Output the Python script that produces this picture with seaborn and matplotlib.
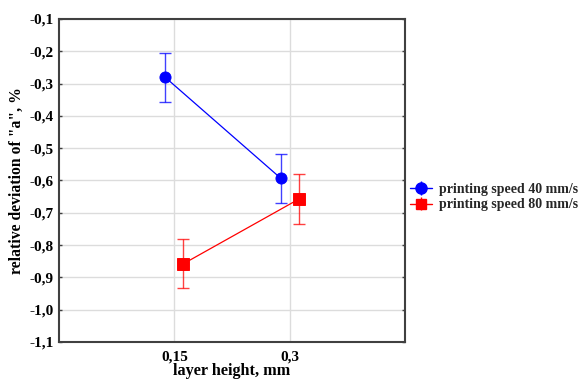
import matplotlib
matplotlib.use("Agg")
import matplotlib.pyplot as plt
import seaborn as sns
import pandas as pd

layer_heights = ["0,15", "0,3"]
series_names = ["printing speed 40 mm/s", "printing speed 80 mm/s"]
means_40 = [-0.281, -0.593]
errs_40 = [0.076, 0.076]
means_80 = [-0.858, -0.658]
errs_80 = [0.076, 0.077]
y_ticks = [-0.1, -0.2, -0.3, -0.4, -0.5, -0.6, -0.7, -0.8, -0.9, -1.0, -1.1]

colors = ["#0000ff", "#ff0000"]
markers = ["o", "s"]

df = pd.DataFrame({
    "layer": layer_heights * 2,
    "series": [series_names[0]] * 2 + [series_names[1]] * 2,
    "value": means_40 + means_80,
})

sns.set_theme(style="white")
plt.rcParams["font.family"] = ["Liberation Serif", "DejaVu Serif"]
plt.rcParams["font.weight"] = "bold"

fig = plt.figure(figsize=(5.79, 3.81), dpi=100)
ax = fig.add_axes([59 / 579, 1 - 342 / 381, (405 - 59) / 579, (342 - 19) / 381])

dodge = 0.155
sns.pointplot(data=df, x="layer", y="value", hue="series", order=layer_heights,
              hue_order=series_names, palette=colors, markers=markers,
              dodge=dodge, errorbar=None, linewidth=0.9, markersize=8,
              legend=False, ax=ax)

for i, (m, e) in enumerate([(means_40, errs_40), (means_80, errs_80)]):
    off = -dodge / 2 if i == 0 else dodge / 2
    xs = [k + off for k in range(len(layer_heights))]
    ax.errorbar(xs, m, yerr=e, fmt="none", ecolor=colors[i], elinewidth=1.0,
                capsize=4.5, capthick=1.0, alpha=0.75, zorder=2)

leg_items = []
for i in range(2):
    eb = ax.errorbar([], [], yerr=[], color=colors[i], marker=markers[i],
                     markersize=8 if i == 0 else 7, capsize=5, linewidth=1.0)
    leg_items.append(eb)

fig.legend(leg_items, series_names, loc="center left",
           bbox_to_anchor=(410 / 579, 1 - 197 / 381), frameon=False,
           prop={"family": "Liberation Serif", "weight": "bold", "size": 10},
           handlelength=1.6, handletextpad=0.5, labelspacing=0.2,
           borderpad=0, borderaxespad=0)

ax.set_xlim(-1.0, 2.0)
ax.set_ylim(-1.1, -0.1)
ax.set_yticks(y_ticks)
ax.set_yticklabels([f"{v:.1f}".replace(".", ",") for v in y_ticks])
ax.set_xticks([0, 1])
ax.set_xticklabels(layer_heights)

ax.grid(True, color="#dcdcdc", linewidth=1.0)
ax.set_axisbelow(True)
for s in ax.spines.values():
    s.set_color("#404040")
    s.set_linewidth(1.5)
    s.set_visible(True)

ax.tick_params(axis="y", direction="in", length=2.5, width=1, color="#404040",
               left=True, right=True, labelsize=11, pad=4)
ax.tick_params(axis="x", direction="in", length=0, labelsize=11, pad=6)
for lab in ax.get_xticklabels() + ax.get_yticklabels():
    lab.set_fontweight("bold")
    lab.set_color("black")

ax.set_xlabel("layer height, mm", fontsize=11.7, fontweight="bold", color="black", labelpad=0)
ax.set_ylabel('relative deviation of "a", %', fontsize=11.3, fontweight="bold", color="black", labelpad=3)

fig.savefig("out.png", dpi=100)
